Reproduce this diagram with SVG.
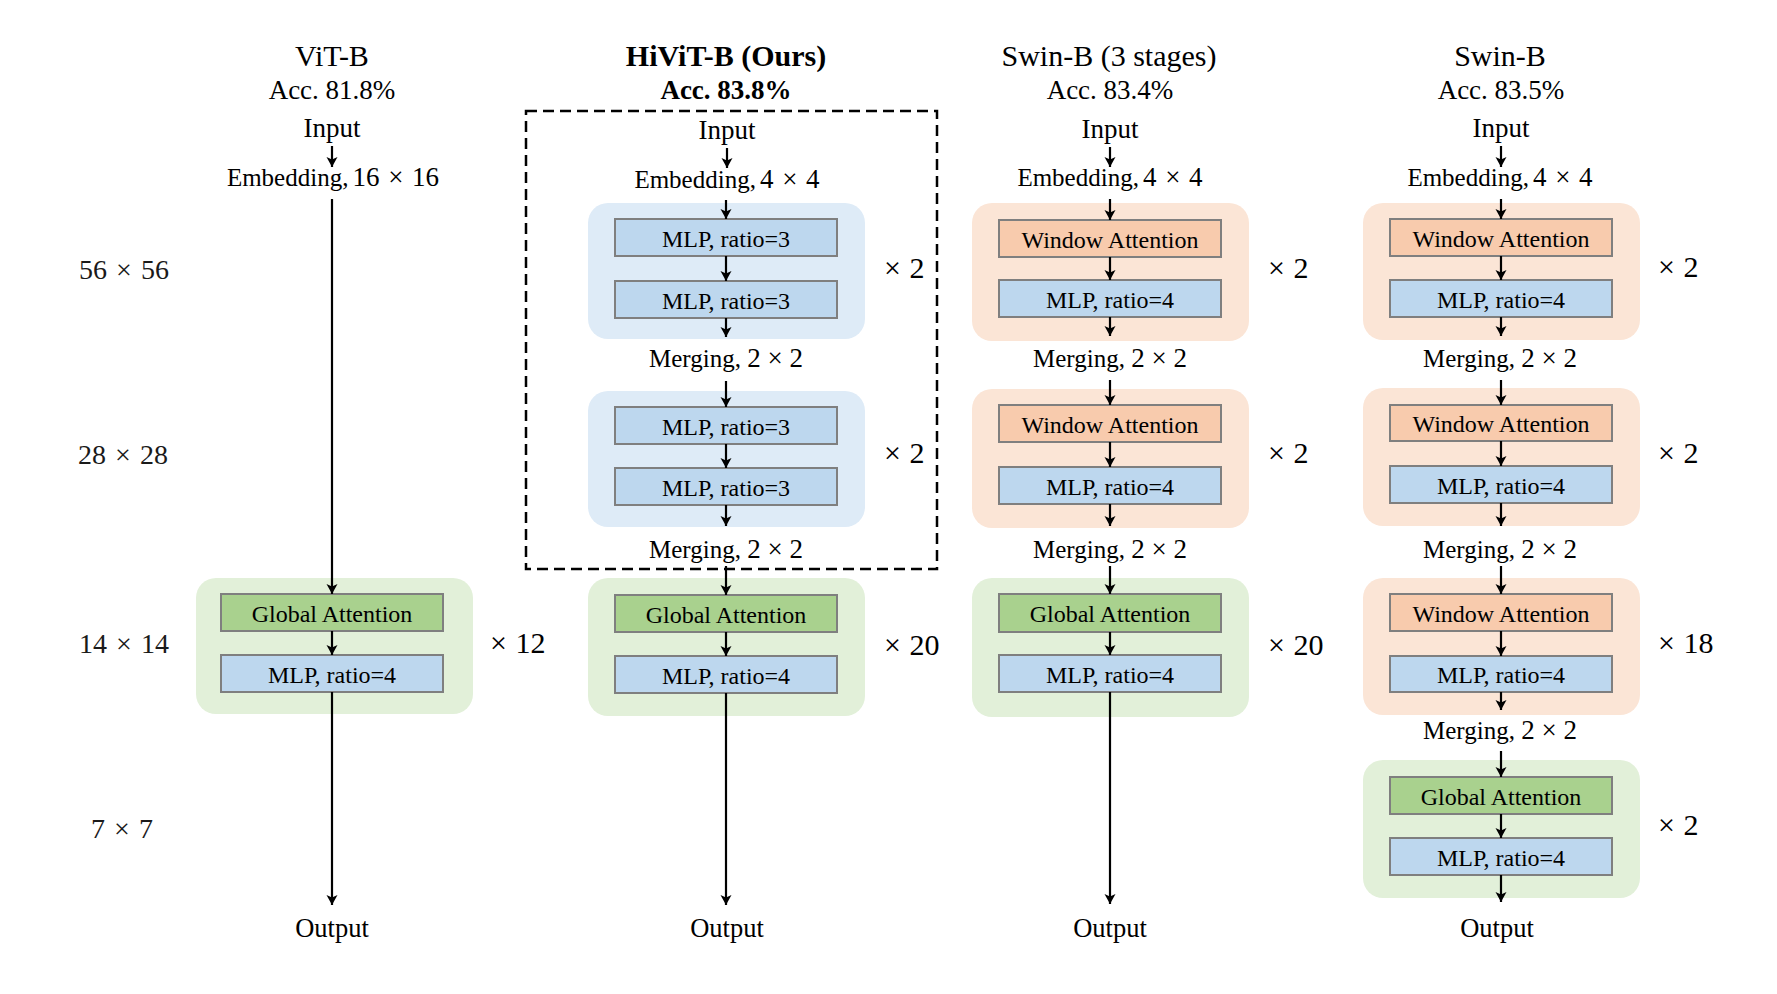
<svg xmlns="http://www.w3.org/2000/svg" width="1777" height="994" viewBox="0 0 1777 994">
<style>
text{font-family:"Liberation Serif","Times New Roman",serif;fill:#000}
.title{font-size:30px;text-anchor:middle}
.acc{font-size:27px;text-anchor:middle}
.bold{font-weight:bold}
.lbl{font-size:27px;text-anchor:middle}
.out{font-size:26.5px;text-anchor:middle}
.num{word-spacing:2px}
.sm{font-size:25px}
.bt{font-size:24px;text-anchor:middle}
.rep{font-size:30px;text-anchor:start;word-spacing:1px}
.res{font-size:28px;text-anchor:middle;word-spacing:2px;fill:#1a1a1a}
.bgb{fill:#deebf7}
.bgo{fill:#fbe5d6}
.bgg{fill:#e2f0d9}
.bx{stroke:#7f7f7f;stroke-width:2}
.blue{fill:#bdd7ee}
.org{fill:#f8cbad}
.grn{fill:#a9d18e}
.conn line{stroke:#000;stroke-width:2.2;marker-end:url(#ah)}
.dash{fill:none;stroke:#000;stroke-width:2.5;stroke-dasharray:11 6}
</style>
<defs>
<marker id="ah" markerUnits="userSpaceOnUse" markerWidth="12" markerHeight="14" viewBox="-1 -7 12 14" refX="10" refY="0" orient="auto">
<path d="M0,-5.5 L10,0 L0,5.5 L2.5,0 Z" fill="#000"/>
</marker>
</defs>
<rect width="1777" height="994" fill="#fff"/>

<g id="resolution-labels">
<text class="res" x="124" y="279">56 × 56</text>
<text class="res" x="123" y="464">28 × 28</text>
<text class="res" x="124" y="653">14 × 14</text>
<text class="res" x="122" y="838">7 × 7</text>
</g>

<!-- ViT-B -->
<g id="vit-header">
<text class="title" x="332" y="66">ViT-B</text>
<text class="acc" x="332" y="99">Acc. 81.8%</text>
<text class="lbl" x="332" y="137">Input</text>
<text class="lbl num" x="333" y="186"><tspan class="sm">Embedding,</tspan><tspan dx="4">16 × 16</tspan></text>
</g>
<g id="vit-stage">
<rect class="bgg" x="196" y="578" width="277" height="136" rx="20"/>
<rect class="bx grn" x="221" y="594" width="222" height="37"/>
<text class="bt" x="332" y="622">Global Attention</text>
<rect class="bx blue" x="221" y="655" width="222" height="37"/>
<text class="bt" x="332" y="683">MLP, ratio=4</text>
<text class="rep" x="490" y="653">× 12</text>
</g>
<g id="vit-output"><text class="out" x="332" y="937">Output</text></g>

<!-- HiViT-B -->
<g id="hivit-header">
<text class="title bold" x="726" y="66">HiViT-B (Ours)</text>
<text class="acc bold" x="726" y="99">Acc. 83.8%</text>
<rect class="dash" x="526" y="111" width="411" height="458"/>
<text class="lbl" x="727" y="139">Input</text>
<text class="lbl num" x="727" y="188"><tspan class="sm">Embedding,</tspan><tspan dx="4">4 × 4</tspan></text>
</g>
<g id="hivit-stage1">
<rect class="bgb" x="588" y="203" width="277" height="136" rx="20"/>
<rect class="bx blue" x="615" y="219" width="222" height="37"/>
<text class="bt" x="726" y="247">MLP, ratio=3</text>
<rect class="bx blue" x="615" y="281" width="222" height="37"/>
<text class="bt" x="726" y="309">MLP, ratio=3</text>
<text class="rep" x="884" y="278">× 2</text>
</g>
<g id="hivit-merge1"><text class="lbl" x="726" y="367"><tspan class="sm">Merging, </tspan>2 × 2</text></g>
<g id="hivit-stage2">
<rect class="bgb" x="588" y="391" width="277" height="136" rx="20"/>
<rect class="bx blue" x="615" y="407" width="222" height="37"/>
<text class="bt" x="726" y="435">MLP, ratio=3</text>
<rect class="bx blue" x="615" y="468" width="222" height="37"/>
<text class="bt" x="726" y="496">MLP, ratio=3</text>
<text class="rep" x="884" y="463">× 2</text>
</g>
<g id="hivit-merge2"><text class="lbl" x="726" y="558"><tspan class="sm">Merging, </tspan>2 × 2</text></g>
<g id="hivit-stage3">
<rect class="bgg" x="588" y="578" width="277" height="138" rx="20"/>
<rect class="bx grn" x="615" y="595" width="222" height="37"/>
<text class="bt" x="726" y="623">Global Attention</text>
<rect class="bx blue" x="615" y="656" width="222" height="37"/>
<text class="bt" x="726" y="684">MLP, ratio=4</text>
<text class="rep" x="884" y="655">× 20</text>
</g>
<g id="hivit-output"><text class="out" x="727" y="937">Output</text></g>

<!-- Swin-B (3 stages) -->
<g id="swin3-header">
<text class="title" x="1109" y="66">Swin-B (3 stages)</text>
<text class="acc" x="1110" y="99">Acc. 83.4%</text>
<text class="lbl" x="1110" y="138">Input</text>
<text class="lbl num" x="1110" y="186"><tspan class="sm">Embedding,</tspan><tspan dx="4">4 × 4</tspan></text>
</g>
<g id="swin3-stage1">
<rect class="bgo" x="972" y="203" width="277" height="138" rx="20"/>
<rect class="bx org" x="999" y="220" width="222" height="37"/>
<text class="bt" x="1110" y="248">Window Attention</text>
<rect class="bx blue" x="999" y="280" width="222" height="37"/>
<text class="bt" x="1110" y="308">MLP, ratio=4</text>
<text class="rep" x="1268" y="278">× 2</text>
</g>
<g id="swin3-merge1"><text class="lbl" x="1110" y="367"><tspan class="sm">Merging, </tspan>2 × 2</text></g>
<g id="swin3-stage2">
<rect class="bgo" x="972" y="389" width="277" height="139" rx="20"/>
<rect class="bx org" x="999" y="405" width="222" height="37"/>
<text class="bt" x="1110" y="433">Window Attention</text>
<rect class="bx blue" x="999" y="467" width="222" height="37"/>
<text class="bt" x="1110" y="495">MLP, ratio=4</text>
<text class="rep" x="1268" y="463">× 2</text>
</g>
<g id="swin3-merge2"><text class="lbl" x="1110" y="558"><tspan class="sm">Merging, </tspan>2 × 2</text></g>
<g id="swin3-stage3">
<rect class="bgg" x="972" y="578" width="277" height="139" rx="20"/>
<rect class="bx grn" x="999" y="594" width="222" height="38"/>
<text class="bt" x="1110" y="622">Global Attention</text>
<rect class="bx blue" x="999" y="655" width="222" height="37"/>
<text class="bt" x="1110" y="683">MLP, ratio=4</text>
<text class="rep" x="1268" y="655">× 20</text>
</g>
<g id="swin3-output"><text class="out" x="1110" y="937">Output</text></g>

<!-- Swin-B -->
<g id="swin-header">
<text class="title" x="1500" y="66">Swin-B</text>
<text class="acc" x="1501" y="99">Acc. 83.5%</text>
<text class="lbl" x="1501" y="137">Input</text>
<text class="lbl num" x="1500" y="186"><tspan class="sm">Embedding,</tspan><tspan dx="4">4 × 4</tspan></text>
</g>
<g id="swin-stage1">
<rect class="bgo" x="1363" y="203" width="277" height="137" rx="20"/>
<rect class="bx org" x="1390" y="219" width="222" height="37"/>
<text class="bt" x="1501" y="247">Window Attention</text>
<rect class="bx blue" x="1390" y="280" width="222" height="37"/>
<text class="bt" x="1501" y="308">MLP, ratio=4</text>
<text class="rep" x="1658" y="277">× 2</text>
</g>
<g id="swin-merge1"><text class="lbl" x="1500" y="367"><tspan class="sm">Merging, </tspan>2 × 2</text></g>
<g id="swin-stage2">
<rect class="bgo" x="1363" y="388" width="277" height="138" rx="20"/>
<rect class="bx org" x="1390" y="405" width="222" height="36"/>
<text class="bt" x="1501" y="432">Window Attention</text>
<rect class="bx blue" x="1390" y="466" width="222" height="37"/>
<text class="bt" x="1501" y="494">MLP, ratio=4</text>
<text class="rep" x="1658" y="463">× 2</text>
</g>
<g id="swin-merge2"><text class="lbl" x="1500" y="558"><tspan class="sm">Merging, </tspan>2 × 2</text></g>
<g id="swin-stage3">
<rect class="bgo" x="1363" y="578" width="277" height="137" rx="20"/>
<rect class="bx org" x="1390" y="594" width="222" height="37"/>
<text class="bt" x="1501" y="622">Window Attention</text>
<rect class="bx blue" x="1390" y="656" width="222" height="36"/>
<text class="bt" x="1501" y="683">MLP, ratio=4</text>
<text class="rep" x="1658" y="653">× 18</text>
</g>
<g id="swin-merge3"><text class="lbl" x="1500" y="739"><tspan class="sm">Merging, </tspan>2 × 2</text></g>
<g id="swin-stage4">
<rect class="bgg" x="1363" y="760" width="277" height="138" rx="20"/>
<rect class="bx grn" x="1390" y="777" width="222" height="37"/>
<text class="bt" x="1501" y="805">Global Attention</text>
<rect class="bx blue" x="1390" y="838" width="222" height="37"/>
<text class="bt" x="1501" y="866">MLP, ratio=4</text>
<text class="rep" x="1658" y="835">× 2</text>
</g>
<g id="swin-output"><text class="out" x="1497" y="937">Output</text></g>

<g id="connectors" class="conn">
<!-- ViT -->
<line x1="332" y1="146" x2="332" y2="167"/>
<line x1="332" y1="199" x2="332" y2="594"/>
<line x1="332" y1="631" x2="332" y2="655"/>
<line x1="332" y1="692" x2="332" y2="905"/>
<!-- HiViT -->
<line x1="727" y1="148" x2="727" y2="168"/>
<line x1="726" y1="200" x2="726" y2="219"/>
<line x1="726" y1="256" x2="726" y2="281"/>
<line x1="726" y1="318" x2="726" y2="337"/>
<line x1="726" y1="381" x2="726" y2="407"/>
<line x1="726" y1="444" x2="726" y2="468"/>
<line x1="726" y1="505" x2="726" y2="526"/>
<line x1="726" y1="566" x2="726" y2="595"/>
<line x1="726" y1="632" x2="726" y2="656"/>
<line x1="726" y1="693" x2="726" y2="905"/>
<!-- Swin 3 stages -->
<line x1="1110" y1="147" x2="1110" y2="167"/>
<line x1="1110" y1="199" x2="1110" y2="220"/>
<line x1="1110" y1="257" x2="1110" y2="280"/>
<line x1="1110" y1="317" x2="1110" y2="336"/>
<line x1="1110" y1="380" x2="1110" y2="405"/>
<line x1="1110" y1="442" x2="1110" y2="467"/>
<line x1="1110" y1="504" x2="1110" y2="526"/>
<line x1="1110" y1="566" x2="1110" y2="594"/>
<line x1="1110" y1="632" x2="1110" y2="655"/>
<line x1="1110" y1="692" x2="1110" y2="904"/>
<!-- Swin -->
<line x1="1501" y1="146" x2="1501" y2="167"/>
<line x1="1501" y1="199" x2="1501" y2="219"/>
<line x1="1501" y1="256" x2="1501" y2="280"/>
<line x1="1501" y1="317" x2="1501" y2="336"/>
<line x1="1501" y1="380" x2="1501" y2="405"/>
<line x1="1501" y1="441" x2="1501" y2="466"/>
<line x1="1501" y1="503" x2="1501" y2="526"/>
<line x1="1501" y1="566" x2="1501" y2="594"/>
<line x1="1501" y1="631" x2="1501" y2="656"/>
<line x1="1501" y1="692" x2="1501" y2="710"/>
<line x1="1501" y1="751" x2="1501" y2="777"/>
<line x1="1501" y1="814" x2="1501" y2="838"/>
<line x1="1501" y1="875" x2="1501" y2="902"/>
</g>
</svg>
